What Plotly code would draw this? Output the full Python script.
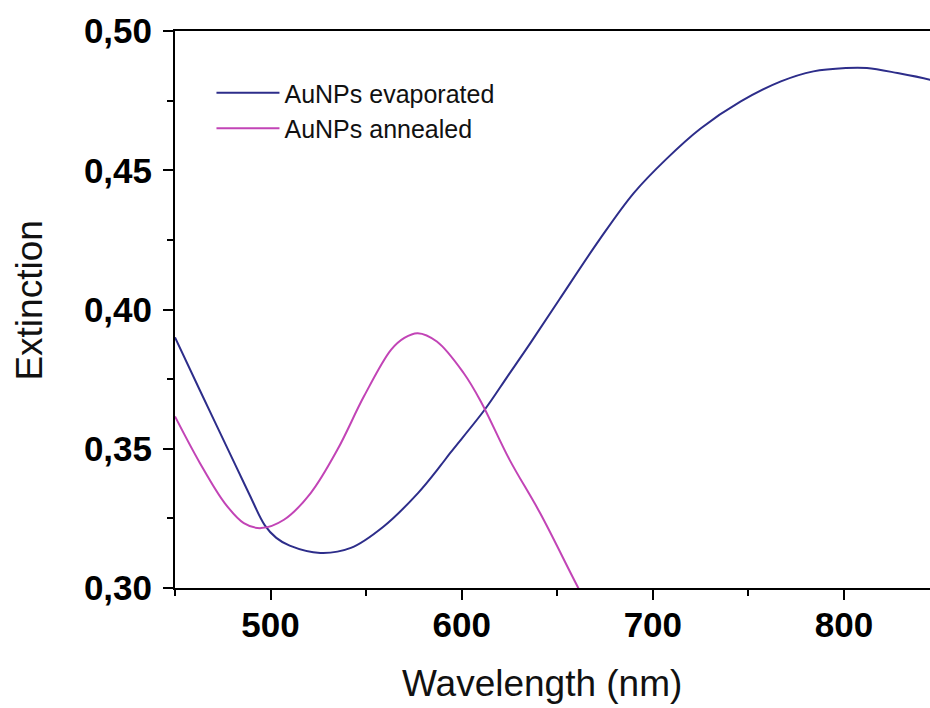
import plotly.graph_objects as go

# Evaporated AuNPs (blue)
evap_wl = [450, 463, 481, 489, 497, 503, 510, 526, 542, 559, 577, 589, 594, 612, 624,
           636, 651, 672, 690, 707, 725, 746, 767, 784, 801, 812, 828, 845, 850]
evap_ext = [0.390, 0.371, 0.345, 0.3335, 0.3225, 0.3180, 0.3152, 0.3126, 0.3144, 0.322,
            0.334, 0.344, 0.3485, 0.364, 0.376, 0.388, 0.4035, 0.425, 0.4418, 0.4540,
            0.4650, 0.4747, 0.4819, 0.4855, 0.4867, 0.4867, 0.4849, 0.4825, 0.4815]

# Annealed AuNPs (magenta)
anneal_wl = [450, 463, 476, 486, 495, 507, 521, 535, 549, 563, 570, 577, 587, 601, 610,
             625, 641, 661, 670]
anneal_ext = [0.3616, 0.3449, 0.3305, 0.3233, 0.3215, 0.3245, 0.3341, 0.3497, 0.3690,
              0.3855, 0.3898, 0.3915, 0.3885, 0.3772, 0.3670, 0.3461, 0.3269, 0.300,
              0.2885]

x_ticks = [500, 600, 700, 800]
y_ticks = [0.30, 0.35, 0.40, 0.45, 0.50]

BLUE = "#2d2d8a"
MAGENTA = "#c244b6"
FONT = "Liberation Sans, Arial, sans-serif"

fig = go.Figure()
fig.add_trace(go.Scatter(x=evap_wl, y=evap_ext, mode="lines", name="AuNPs evaporated",
                         line=dict(color=BLUE, width=2, shape="spline", smoothing=1.0)))
fig.add_trace(go.Scatter(x=anneal_wl, y=anneal_ext, mode="lines", name="AuNPs annealed",
                         line=dict(color=MAGENTA, width=2, shape="spline", smoothing=1.0)))

L, R, T, B = 174.5, 0, 31, 120
W, H = 930, 708
pw = W - L - R
ph = H - T - B

def px_to_paper(px, py):
    return (px - L) / pw, (H - B - py) / ph

tx, ty = px_to_paper(541.5, 683)
yx, yy = px_to_paper(28, 301)
lx, ly = px_to_paper(211, 70)

fig.update_layout(
    width=W, height=H,
    margin=dict(l=L, r=R, t=T, b=B),
    paper_bgcolor="white", plot_bgcolor="white",
    separators=",.",
    font=dict(family=FONT, color="black"),
    showlegend=True,
    legend=dict(x=lx, y=ly, xanchor="left", yanchor="top", itemwidth=63,
                bgcolor="rgba(0,0,0,0)", font=dict(size=25, family=FONT, color="#111"),
                tracegroupgap=0),
    xaxis=dict(range=[450, 845], tickvals=x_ticks, ticks="outside", ticklen=10,
               tickwidth=2, tickcolor="black", showline=True, linecolor="black",
               linewidth=2, mirror=True, showgrid=False, zeroline=False,
               ticklabelstandoff=-5,
               tickfont=dict(size=35, family=FONT, weight="bold", color="black"),
               minor=dict(dtick=50, ticks="outside", ticklen=6, tickwidth=2,
                          tickcolor="black", showgrid=False)),
    yaxis=dict(range=[0.30, 0.50], tickvals=y_ticks, tickformat=".2f", ticks="outside",
               ticklen=10, tickwidth=2, tickcolor="black", showline=True,
               linecolor="black", linewidth=2, mirror=False, showgrid=False,
               zeroline=False, ticklabelstandoff=4,
               tickfont=dict(size=35, family=FONT, weight="bold", color="black"),
               minor=dict(dtick=0.025, ticks="outside", ticklen=6, tickwidth=2,
                          tickcolor="black", showgrid=False)),
    annotations=[
        dict(text="Wavelength (nm)", x=tx, y=ty, xref="paper", yref="paper",
             xanchor="center", yanchor="middle", showarrow=False,
             font=dict(size=37, family=FONT, color="#111")),
        dict(text="Extinction", x=yx, y=yy, xref="paper", yref="paper",
             xanchor="center", yanchor="middle", showarrow=False, textangle=-90,
             font=dict(size=37, family=FONT, color="#111")),
    ],
)

fig.write_html("out.html")
